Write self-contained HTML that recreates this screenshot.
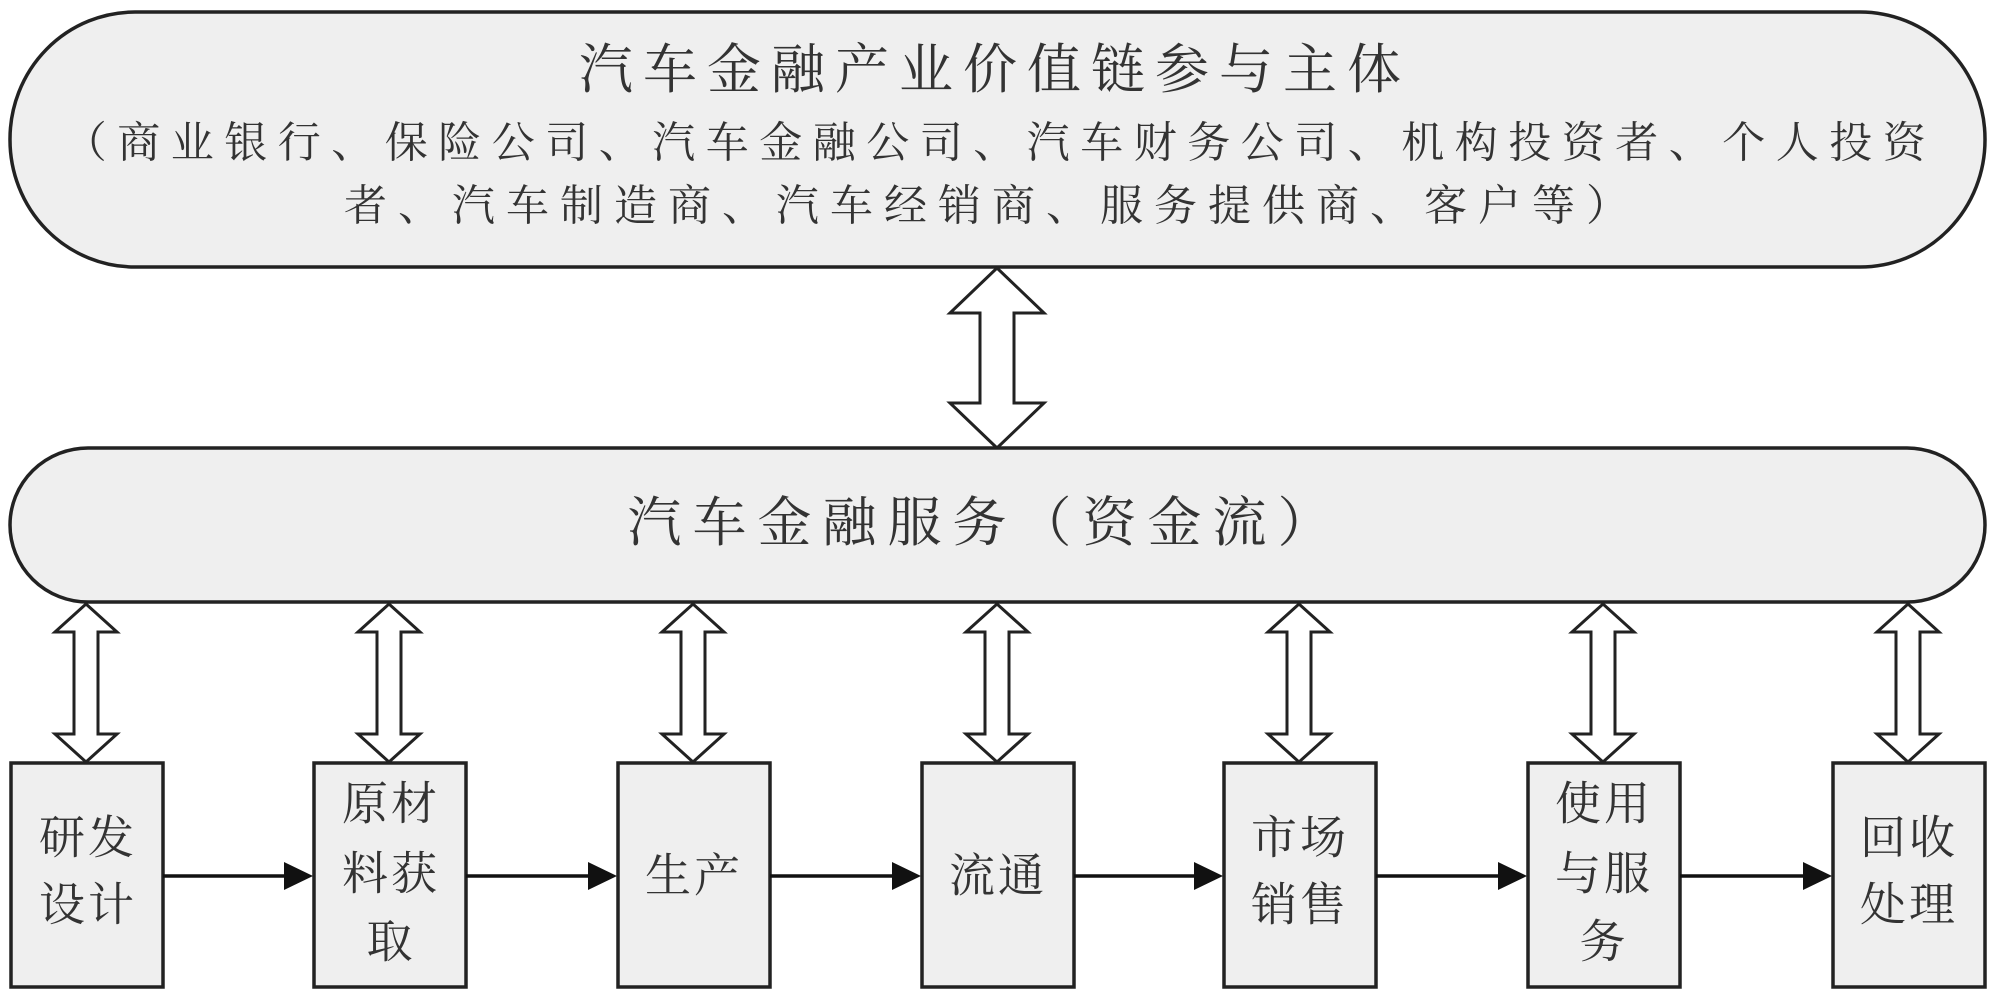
<!DOCTYPE html>
<html><head><meta charset="utf-8"><style>
html,body{margin:0;padding:0;background:#fff;}
svg{display:block;}
text{font-family:"Liberation Serif","Noto Serif CJK SC",serif;fill:#333;text-anchor:middle;dominant-baseline:central;}
</style></head><body>
<svg width="2000" height="1002" viewBox="0 0 2000 1002" xmlns="http://www.w3.org/2000/svg">
<!-- top pill -->
<rect x="10" y="12" width="1975" height="255" rx="125" ry="127" fill="#efefef" stroke="#222" stroke-width="3.5"/>
<text x="995" y="70" font-size="54" letter-spacing="10">汽车金融产业价值链参与主体</text>
<text x="1000" y="144" font-size="43" letter-spacing="10.5">（商业银行、保险公司、汽车金融公司、汽车财务公司、机构投资者、个人投资</text>
<text x="992" y="207" font-size="43" letter-spacing="11">者、汽车制造商、汽车经销商、服务提供商、客户等）</text>
<!-- top double arrow -->
<path d="M997 268 L1044 313 L1014 313 L1014 403 L1044 403 L997 448 L950 403 L980 403 L980 313 L950 313 Z" fill="#fff" stroke="#222" stroke-width="3"/>
<!-- second pill -->
<rect x="10" y="448" width="1975" height="154" rx="78" ry="77" fill="#efefef" stroke="#222" stroke-width="3.5"/>
<text x="985" y="523" font-size="54" letter-spacing="11">汽车金融服务（资金流）</text>
<!-- small double arrows -->
<g fill="#fff" stroke="#222" stroke-width="3">
<path id="da" d="M0 604 L31 632 L12 632 L12 734 L31 734 L0 762 L-31 734 L-12 734 L-12 632 L-31 632 Z" transform="translate(86,0)"/>
<use href="#da" transform="translate(303,0)"/>
<use href="#da" transform="translate(607,0)"/>
<use href="#da" transform="translate(911,0)"/>
<use href="#da" transform="translate(1213,0)"/>
<use href="#da" transform="translate(1517,0)"/>
<use href="#da" transform="translate(1822,0)"/>
</g>
<!-- boxes -->
<g fill="#efefef" stroke="#222" stroke-width="3.5">
<rect x="11" y="763" width="152" height="224"/>
<rect x="314" y="763" width="152" height="224"/>
<rect x="618" y="763" width="152" height="224"/>
<rect x="922" y="763" width="152" height="224"/>
<rect x="1224" y="763" width="152" height="224"/>
<rect x="1528" y="763" width="152" height="224"/>
<rect x="1833" y="763" width="152" height="224"/>
</g>
<!-- horizontal arrows -->
<g stroke="#111" stroke-width="3.5" fill="#111">
<line x1="163" y1="876" x2="288" y2="876"/><path d="M284 862 L313 876 L284 890 Z" stroke="none"/>
<line x1="466" y1="876" x2="592" y2="876"/><path d="M588 862 L617 876 L588 890 Z" stroke="none"/>
<line x1="770" y1="876" x2="896" y2="876"/><path d="M892 862 L921 876 L892 890 Z" stroke="none"/>
<line x1="1074" y1="876" x2="1198" y2="876"/><path d="M1194 862 L1223 876 L1194 890 Z" stroke="none"/>
<line x1="1376" y1="876" x2="1502" y2="876"/><path d="M1498 862 L1527 876 L1498 890 Z" stroke="none"/>
<line x1="1680" y1="876" x2="1807" y2="876"/><path d="M1803 862 L1832 876 L1803 890 Z" stroke="none"/>
</g>
<!-- box labels -->
<g font-size="46" letter-spacing="3">
<text x="88" y="838">研发</text><text x="88" y="905">设计</text>
<text x="391" y="804">原材</text><text x="391" y="874">料获</text><text x="391" y="942">取</text>
<text x="694" y="876">生产</text>
<text x="998" y="876">流通</text>
<text x="1300" y="838">市场</text><text x="1300" y="905">销售</text>
<text x="1604" y="804">使用</text><text x="1604" y="874">与服</text><text x="1604" y="942">务</text>
<text x="1909" y="838">回收</text><text x="1909" y="905">处理</text>
</g>
</svg>
</body></html>
